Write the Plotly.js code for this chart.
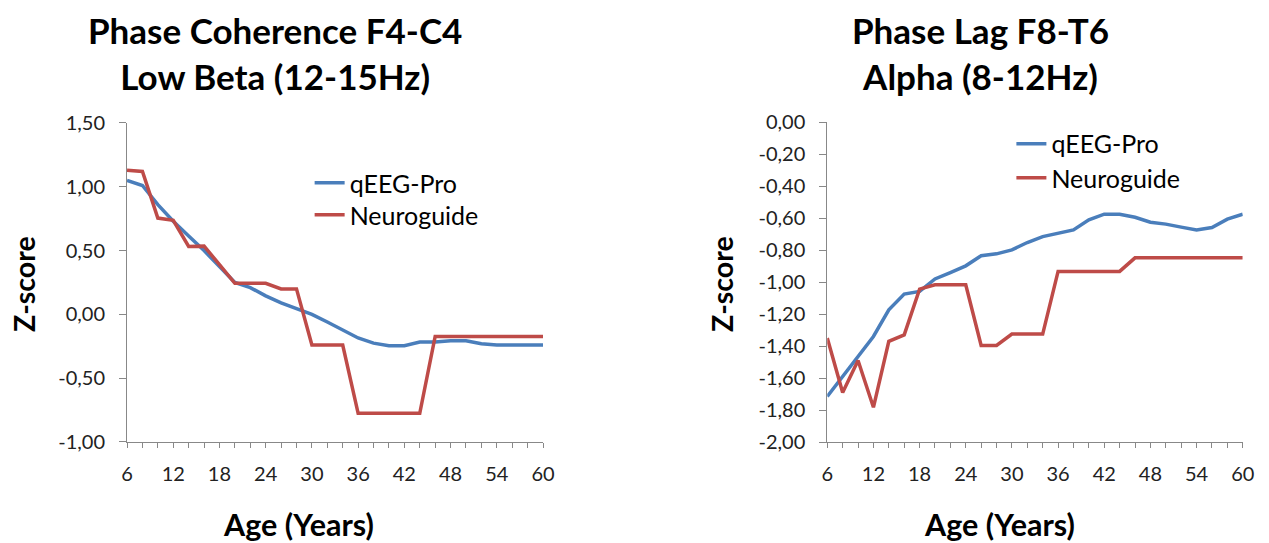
<!DOCTYPE html>
<html>
<head>
<meta charset="utf-8">
<script src="https://cdn.plot.ly/plotly-3.0.1.min.js"></script>
<style>html,body{margin:0;padding:0;background:#fff;}#chart{width:1269px;height:543px;}</style>
</head>
<body>
<div id="chart"></div>
<script>
var ages = [6,8,10,12,14,16,18,20,22,24,26,28,30,32,34,36,38,40,42,44,46,48,50,52,54,56,58,60];
var tickLabelAges = [6,12,18,24,30,36,42,48,54,60];

// Left chart: Phase Coherence F4-C4, Low Beta (12-15Hz)
var cohQeegPro = [1.05,1.01,0.86,0.73,0.615,0.50,0.375,0.25,0.21,0.145,0.09,0.045,0.00,-0.06,-0.12,-0.185,-0.225,-0.245,-0.245,-0.217,-0.217,-0.207,-0.207,-0.23,-0.24,-0.24,-0.24,-0.24];
var cohNeuroguide = [1.13,1.12,0.755,0.737,0.532,0.535,0.39,0.244,0.244,0.244,0.20,0.20,-0.24,-0.24,-0.24,-0.775,-0.775,-0.775,-0.775,-0.775,-0.173,-0.173,-0.173,-0.173,-0.173,-0.173,-0.173,-0.173];
var cohTickVals = [-1, -0.5, 0, 0.5, 1, 1.5];
var cohTickText = ['-1,00', '-0,50', '0,00', '0,50', '1,00', '1,50'];

// Right chart: Phase Lag F8-T6, Alpha (8-12Hz)
var lagQeegPro = [-1.715,-1.59,-1.465,-1.34,-1.173,-1.075,-1.058,-0.98,-0.94,-0.898,-0.835,-0.823,-0.798,-0.752,-0.715,-0.694,-0.673,-0.61,-0.575,-0.575,-0.594,-0.625,-0.637,-0.656,-0.673,-0.658,-0.606,-0.575];
var lagNeuroguide = [-1.35,-1.69,-1.49,-1.783,-1.37,-1.33,-1.044,-1.017,-1.017,-1.017,-1.396,-1.396,-1.325,-1.325,-1.325,-0.933,-0.933,-0.933,-0.933,-0.933,-0.848,-0.848,-0.848,-0.848,-0.848,-0.848,-0.848,-0.848];
var lagTickVals = [-2, -1.8, -1.6, -1.4, -1.2, -1, -0.8, -0.6, -0.4, -0.2, 0];
var lagTickText = ['-2,00', '-1,80', '-1,60', '-1,40', '-1,20', '-1,00', '-0,80', '-0,60', '-0,40', '-0,20', '0,00'];

var seriesNames = ['qEEG-Pro','Neuroguide'];
var colors = ['#4A7EBB','#BE4B48'];

var tickText = ages.map(function(a){ return tickLabelAges.indexOf(a) >= 0 ? String(a) : ''; });

var FONT = 'Lato, "Open Sans", sans-serif';

function tr(y, name, color, xa, ya, leg){
  return {x: ages, y: y, name: name, type: 'scatter', mode: 'lines',
    line: {color: color, width: 3.5}, xaxis: xa, yaxis: ya, legend: leg};
}

var data = [
  tr(cohQeegPro, seriesNames[0], colors[0], 'x', 'y', 'legend'),
  tr(cohNeuroguide, seriesNames[1], colors[1], 'x', 'y', 'legend2'),
  tr(lagQeegPro, seriesNames[0], colors[0], 'x2', 'y2', 'legend3'),
  tr(lagNeuroguide, seriesNames[1], colors[1], 'x2', 'y2', 'legend4')
];

function xax(domain, anchor){
  return {domain: domain, anchor: anchor, range: [6,60], tickmode: 'array', tickvals: ages, ticktext: tickText,
    ticks: 'outside', ticklen: 5, tickcolor: '#888', tickwidth: 1, showline: true, linecolor: '#888', linewidth: 1,
    showgrid: false, zeroline: false, tickfont: {family: FONT, size: 20, color: '#222'}, ticklabelstandoff: 9, fixedrange: true};
}
function yax(domain, anchor, range, vals, text){
  return {domain: domain, anchor: anchor, range: range, tickmode: 'array', tickvals: vals, ticktext: text,
    ticks: 'outside', ticklen: 7, tickcolor: '#888', tickwidth: 1, showline: true, linecolor: '#888', linewidth: 1,
    showgrid: false, zeroline: false, tickfont: {family: FONT, size: 20, color: '#222'}, ticklabelstandoff: 10, fixedrange: true};
}

var titleFont = {family: FONT, size: 35, color: '#000', weight: 'bold'};
var zFont = {family: FONT, size: 28.5, color: '#000', weight: 'bold'};
var ageFont = {family: FONT, size: 30.5, color: '#000', weight: 'bold'};
var legendFont = {family: FONT, size: 25, color: '#000'};

function leg(x, y){
  return {x: x, y: y, xanchor: 'left', yanchor: 'top', itemwidth: 30, font: legendFont, bgcolor: 'rgba(0,0,0,0)', tracegroupgap: 0};
}

var layout = {
  width: 1269, height: 543,
  margin: {l: 0, r: 0, t: 0, b: 0},
  paper_bgcolor: '#fff', plot_bgcolor: '#fff',
  separators: ',.',
  font: {family: FONT},
  xaxis: xax([0.1001, 0.4279], 'y'),
  yaxis: yax([0.186, 0.7735], 'x', [-1, 1.5], cohTickVals, cohTickText),
  xaxis2: xax([0.6519, 0.9793], 'y2'),
  yaxis2: yax([0.186, 0.7748], 'x2', [-2, 0], lagTickVals, lagTickText),
  legend: leg(0.244, 0.7053),
  legend2: leg(0.244, 0.6464),
  legend3: leg(0.797, 0.7772),
  legend4: leg(0.797, 0.7145),
  showlegend: true,
  annotations: [
    {text: 'Phase Coherence F4-C4<br>Low Beta (12-15Hz)', xref: 'paper', yref: 'paper', x: 275/1269, y: 1 - 53/543, xanchor: 'center', yanchor: 'middle', showarrow: false, font: titleFont, align: 'center'},
    {text: 'Phase Lag F8-T6<br>Alpha (8-12Hz)', xref: 'paper', yref: 'paper', x: 980/1269, y: 1 - 53/543, xanchor: 'center', yanchor: 'middle', showarrow: false, font: titleFont, align: 'center'},
    {text: 'Z-score', xref: 'paper', yref: 'paper', x: 24/1269, y: 1 - 284/543, xanchor: 'center', yanchor: 'middle', textangle: -90, showarrow: false, font: zFont},
    {text: 'Z-score', xref: 'paper', yref: 'paper', x: 722/1269, y: 1 - 284/543, xanchor: 'center', yanchor: 'middle', textangle: -90, showarrow: false, font: zFont},
    {text: 'Age (Years)', xref: 'paper', yref: 'paper', x: 298/1269, y: 1 - 524/543, xanchor: 'center', yanchor: 'middle', showarrow: false, font: ageFont},
    {text: 'Age (Years)', xref: 'paper', yref: 'paper', x: 999/1269, y: 1 - 524/543, xanchor: 'center', yanchor: 'middle', showarrow: false, font: ageFont}
  ]
};

Plotly.newPlot('chart', data, layout, {displayModeBar: false, staticPlot: true});
</script>
</body>
</html>
